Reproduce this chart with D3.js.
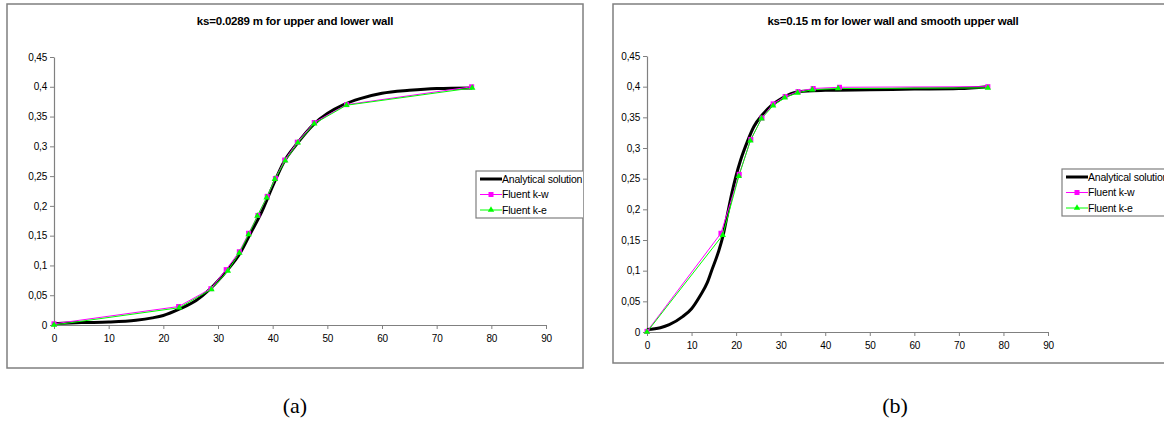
<!DOCTYPE html>
<html><head><meta charset="utf-8">
<script src="https://cdn.jsdelivr.net/npm/d3@7"></script>
<style>
body{margin:0;background:#fff;}
svg{display:block;font-family:"Liberation Sans",Arial,sans-serif;}
</style></head>
<body><svg id="c" width="1164" height="423"></svg>
<script>
// ---------- data ----------
const xTicks = [0,10,20,30,40,50,60,70,80,90];
const yTicks = [0,0.05,0.1,0.15,0.2,0.25,0.3,0.35,0.4,0.45];
const seriesNames = ["Analytical solution","Fluent k-w","Fluent k-e"];
const titles = ["ks=0.0289 m for upper and lower wall","ks=0.15 m for lower wall and smooth upper wall"];
const captions = ["(a)","(b)"];

// panel (a)
const aAnalyticalX = [0,5,10,15,18,20,23,26,28.5,31.5,34,36,38,40,42,44.5,47.5,50,53,56,60,65,70,76.5];
const aAnalyticalY = [0.002,0.004,0.005,0.008,0.012,0.016,0.027,0.041,0.06,0.09,0.12,0.155,0.19,0.233,0.273,0.305,0.337,0.355,0.370,0.380,0.389,0.394,0.397,0.398];
const aKwX = [0,22.8,28.7,31.5,33.9,35.6,37.3,39.0,40.5,42.2,44.5,47.6,53.5,76.4];
const aKwY = [0.002,0.031,0.061,0.093,0.123,0.154,0.184,0.216,0.246,0.277,0.307,0.340,0.370,0.400];
const aKeX = [0,22.9,28.8,31.8,33.9,35.6,37.2,38.9,40.4,42.3,44.6,47.6,53.5,76.5];
const aKeY = [0.0,0.029,0.060,0.091,0.121,0.152,0.183,0.214,0.245,0.276,0.306,0.338,0.369,0.398];

// panel (b)
const bAnalyticalX = [0,3,5,8,10,12,13.5,14.5,16,17,18,19,20,21,22.5,24,26,28,30,33,36,40,50,60,70,76.5];
const bAnalyticalY = [0.004,0.007,0.012,0.025,0.038,0.06,0.08,0.1,0.13,0.155,0.19,0.225,0.255,0.28,0.31,0.335,0.355,0.37,0.38,0.39,0.393,0.394,0.395,0.396,0.397,0.400];
const bKwX = [0,16.6,20.7,23.3,25.8,28.3,31.0,33.9,37.3,43.2,76.5];
const bKwY = [0.001,0.161,0.257,0.314,0.349,0.372,0.384,0.392,0.397,0.399,0.400];
const bKeX = [0,17.0,20.6,23.2,25.7,28.3,30.9,33.8,37.1,42.9,76.5];
const bKeY = [0.0,0.158,0.254,0.312,0.348,0.369,0.382,0.390,0.395,0.397,0.398];

// ---------- layout ----------
const panels = [
  {box:[7,4,583,368], x0:54, x1:546, y0:325, y1:57, title:[295,25], cap:[295,413],
   legend:[476,171,112,47], a:[aAnalyticalX,aAnalyticalY], kw:[aKwX,aKwY], ke:[aKeX,aKeY]},
  {box:[613,4,1175,363], x0:647, x1:1048, y0:332, y1:56, title:[893,25], cap:[895,413],
   legend:[1062,169,112,47], a:[bAnalyticalX,bAnalyticalY], kw:[bKwX,bKwY], ke:[bKeX,bKeY]}
];
const zip = (xs,ys)=>xs.map((x,i)=>[x,ys[i]]);
const svg = d3.select("#c");
const fmt = v => d3.format(".2~f")(v).replace(".",",");

panels.forEach((p,pi)=>{
  const g = svg.append("g");
  const [bx0,by0,bx1,by1] = p.box;
  const cid = "clip"+pi;
  svg.append("clipPath").attr("id",cid).append("rect")
    .attr("x",bx0).attr("y",by0).attr("width",bx1-bx0).attr("height",by1-by0);
  g.append("rect").attr("x",bx0).attr("y",by0).attr("width",bx1-bx0).attr("height",by1-by0)
    .attr("fill","#fff").attr("stroke","#7f7f7f").attr("stroke-width",1.5);

  const x = d3.scaleLinear().domain([0,90]).range([p.x0,p.x1]);
  const y = d3.scaleLinear().domain([0,0.45]).range([p.y0,p.y1]);

  g.append("text").attr("x",p.title[0]).attr("y",p.title[1]).attr("text-anchor","middle")
    .attr("font-size",11.5).attr("font-weight","bold").attr("letter-spacing",-0.2).text(titles[pi]);

  const xa = g.append("g").attr("transform",`translate(0,${p.y0})`)
    .call(d3.axisBottom(x).tickValues(xTicks).tickSize(4).tickSizeOuter(0).tickPadding(6));
  const ya = g.append("g").attr("transform",`translate(${p.x0},0)`)
    .call(d3.axisLeft(y).tickValues(yTicks).tickFormat(fmt).tickSize(4).tickSizeOuter(0).tickPadding(3));
  [xa,ya].forEach(a=>{
    a.select(".domain").attr("stroke","#808080").attr("stroke-width",1.2);
    a.selectAll(".tick line").attr("stroke","#808080");
    a.selectAll("text").attr("font-size",10).attr("fill","#000")
      .attr("font-family","Liberation Sans, Arial, sans-serif").attr("letter-spacing",-0.2);
  });

  const lineSmooth = d3.line().x(d=>x(d[0])).y(d=>y(d[1])).curve(d3.curveMonotoneX);
  const lineStraight = d3.line().x(d=>x(d[0])).y(d=>y(d[1]));

  const kw = zip(p.kw[0],p.kw[1]), ke = zip(p.ke[0],p.ke[1]), an = zip(p.a[0],p.a[1]);
  g.append("path").attr("d",lineSmooth(an)).attr("fill","none").attr("stroke","#000").attr("stroke-width",3);
  g.append("path").attr("d",lineStraight(kw)).attr("fill","none").attr("stroke","#ff00ff").attr("stroke-width",1);
  g.append("path").attr("d",lineStraight(ke)).attr("fill","none").attr("stroke","#00ff00").attr("stroke-width",1);
  g.selectAll(".sq").data(kw).enter().append("rect")
    .attr("x",d=>x(d[0])-2.5).attr("y",d=>y(d[1])-2.5).attr("width",5).attr("height",5).attr("fill","#ff00ff");
  g.selectAll(".tr").data(ke).enter().append("path")
    .attr("d",d3.symbol().type(d3.symbolTriangle).size(18))
    .attr("transform",d=>`translate(${x(d[0])},${y(d[1])})`).attr("fill","#00ff00");

  // legend
  const [lx,ly,lw,lh] = p.legend;
  const lg = g.append("g").attr("clip-path",`url(#${cid})`);
  lg.append("rect").attr("x",lx).attr("y",ly).attr("width",lw).attr("height",lh)
    .attr("fill","#fff").attr("stroke","#7f7f7f").attr("stroke-width",1.2);
  const cols = ["#000","#ff00ff","#00ff00"], widths=[3,1,1];
  seriesNames.forEach((n,i)=>{
    const yy = ly + 8 + i*15.5;
    lg.append("line").attr("x1",lx+4).attr("x2",lx+26).attr("y1",yy).attr("y2",yy)
      .attr("stroke",cols[i]).attr("stroke-width",widths[i]);
    if(i===1) lg.append("rect").attr("x",lx+15-2.5).attr("y",yy-2.5).attr("width",5).attr("height",5).attr("fill",cols[i]);
    if(i===2) lg.append("path").attr("d",d3.symbol().type(d3.symbolTriangle).size(18))
      .attr("transform",`translate(${lx+15},${yy})`).attr("fill",cols[i]);
    lg.append("text").attr("x",lx+26).attr("y",yy+3.5).attr("font-size",10.5).attr("letter-spacing",-0.2).text(n);
  });

  svg.append("text").attr("x",p.cap[0]).attr("y",p.cap[1]).attr("text-anchor","middle")
    .attr("font-family","Liberation Serif, Times New Roman, serif").attr("font-size",22).text(captions[pi]);
});
</script></body></html>
